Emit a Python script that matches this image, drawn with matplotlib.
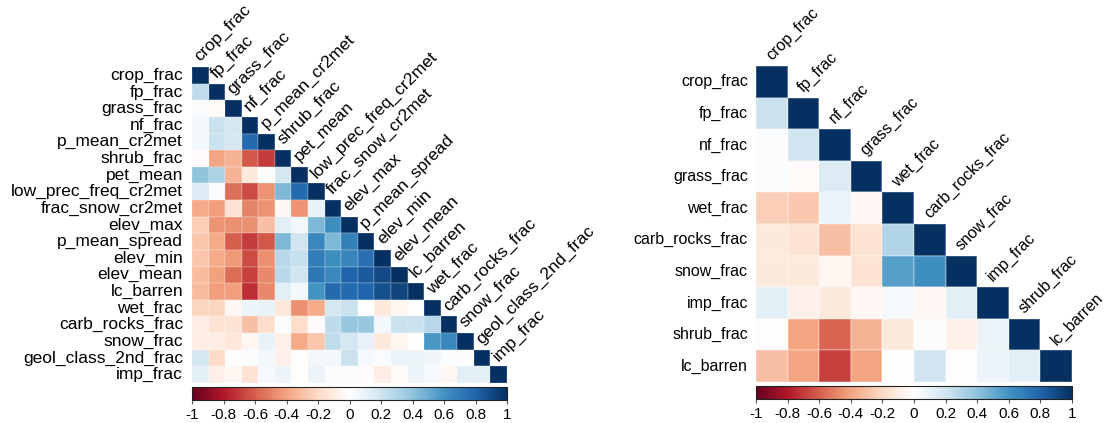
import numpy as np
import matplotlib
matplotlib.use('Agg')
import matplotlib.pyplot as plt
from matplotlib.colors import LinearSegmentedColormap, Normalize
from matplotlib.colorbar import ColorbarBase
from matplotlib.transforms import offset_copy

plt.rcParams['font.family'] = ['Liberation Sans', 'DejaVu Sans']

left_vars = [
    'crop_frac', 'fp_frac', 'grass_frac', 'nf_frac', 'p_mean_cr2met',
    'shrub_frac', 'pet_mean', 'low_prec_freq_cr2met', 'frac_snow_cr2met',
    'elev_max', 'p_mean_spread', 'elev_min', 'elev_mean', 'lc_barren',
    'wet_frac', 'carb_rocks_frac', 'snow_frac', 'geol_class_2nd_frac', 'imp_frac',
]

# lower triangle, one list per row (diagonal is 1)
left_lower = [
    [],
    [0.25],
    [0.03, -0.03],
    [0.05, 0.22, 0.18],
    [0.05, 0.22, 0.18, 0.78],
    [-0.02, -0.40, -0.35, -0.62, -0.70],
    [0.40, 0.32, -0.35, -0.12, 0.02, 0.18],
    [0.15, 0.03, -0.55, -0.65, -0.45, 0.45, 0.78],
    [-0.38, -0.42, -0.15, -0.50, -0.45, -0.04, -0.45, 0.10],
    [-0.25, -0.45, -0.46, -0.46, -0.30, 0.12, 0.06, 0.45, 0.62],
    [-0.28, -0.38, -0.60, -0.70, -0.62, 0.45, 0.20, 0.65, 0.45, 0.68],
    [-0.28, -0.38, -0.43, -0.65, -0.46, 0.28, 0.24, 0.70, 0.62, 0.66, 0.75],
    [-0.32, -0.41, -0.56, -0.68, -0.48, 0.28, 0.20, 0.72, 0.65, 0.80, 0.84, 0.90],
    [-0.32, -0.42, -0.42, -0.74, -0.48, 0.12, 0.05, 0.60, 0.78, 0.78, 0.80, 0.88, 0.92],
    [-0.22, -0.22, -0.04, 0.08, 0.10, -0.14, -0.46, -0.38, 0.18, 0.22, 0.00, -0.12, -0.05, 0.00],
    [-0.10, -0.15, -0.15, -0.30, -0.18, 0.03, -0.18, -0.02, 0.26, 0.38, 0.38, 0.06, 0.22, 0.22, 0.28],
    [-0.10, -0.10, -0.13, -0.05, 0.10, -0.08, -0.38, -0.28, 0.25, 0.18, 0.10, -0.12, -0.05, 0.00, 0.58, 0.65],
    [0.18, -0.20, -0.01, 0.02, 0.05, -0.08, -0.01, 0.06, 0.06, 0.22, 0.04, 0.03, 0.08, 0.08, 0.07, 0.02, 0.02],
    [0.12, -0.08, -0.05, -0.15, 0.04, 0.08, -0.01, 0.08, 0.02, 0.02, -0.02, -0.10, -0.03, 0.08, 0.04, -0.05, 0.12, 0.12],
]

right_vars = [
    'crop_frac', 'fp_frac', 'nf_frac', 'grass_frac', 'wet_frac',
    'carb_rocks_frac', 'snow_frac', 'imp_frac', 'shrub_frac', 'lc_barren',
]

right_lower = [
    [],
    [0.22],
    [0.02, 0.20],
    [0.02, -0.03, 0.15],
    [-0.25, -0.27, 0.08, -0.04],
    [-0.12, -0.15, -0.30, -0.15, 0.30],
    [-0.12, -0.12, -0.05, -0.15, 0.55, 0.62],
    [0.12, -0.08, -0.12, -0.04, 0.04, -0.04, 0.12],
    [-0.01, -0.40, -0.58, -0.35, -0.12, 0.02, -0.08, 0.08],
    [-0.30, -0.40, -0.68, -0.40, 0.00, 0.20, 0.01, 0.08, 0.12],
]

cbar_ticks = [-1, -0.8, -0.6, -0.4, -0.2, 0, 0.2, 0.4, 0.6, 0.8, 1]
cbar_labels = ['-1', '-0.8', '-0.6', '-0.4', '-0.2', '0', '0.2', '0.4', '0.6', '0.8', '1']

# corrplot-style diverging palette
cmap = LinearSegmentedColormap.from_list('corr', [
    '#67001F', '#B2182B', '#D6604D', '#F4A582', '#FDDBC7', '#FFFFFF',
    '#D1E5F0', '#92C5DE', '#4393C3', '#2166AC', '#053061'])
norm = Normalize(-1, 1)


def full_matrix(lower):
    n = len(lower)
    m = np.full((n, n), np.nan)
    for i, row in enumerate(lower):
        for j, v in enumerate(row):
            m[i, j] = v
        m[i, i] = 1.0
    return np.ma.masked_invalid(m)


def draw_corr(fig, ax, names, lower, fs, gap, edge_alpha):
    n = len(names)
    m = full_matrix(lower)
    ax.pcolormesh(np.arange(n + 1), np.arange(n + 1), m, cmap=cmap, norm=norm,
                  edgecolors=(1, 1, 1, edge_alpha), linewidth=0.3)
    ax.set_xlim(0, n)
    ax.set_ylim(n, 0)
    ax.axis('off')
    row_tr = offset_copy(ax.transData, fig=fig, x=-gap, y=0, units='dots')
    col_tr = offset_copy(ax.transData, fig=fig, x=0, y=5, units='dots')
    for i, name in enumerate(names):
        ax.text(0, i + 0.5, name, ha='right', va='center', fontsize=fs,
                transform=row_tr)
        ax.text(i + 0.5, i, name, ha='left', va='baseline', fontsize=fs,
                rotation=45, rotation_mode='anchor', transform=col_tr)


def draw_cbar(cax):
    cb = ColorbarBase(cax, cmap=cmap, norm=norm, orientation='horizontal', ticks=cbar_ticks)
    cb.set_ticklabels(cbar_labels)
    cb.outline.set_edgecolor('#222222')
    cb.outline.set_linewidth(0.8)
    cax.tick_params(axis='x', length=3, width=0.8, color='#555555', labelsize=11, pad=3)


fig = plt.figure(figsize=(11.07, 4.23), dpi=100)

ax1 = fig.add_axes([192 / 1107, 1 - 383 / 423, 315 / 1107, 316 / 423])
draw_corr(fig, ax1, left_vars, left_lower, 12.5, 9, 0.12)
cax1 = fig.add_axes([192 / 1107, 1 - 400 / 423, 315 / 1107, 13 / 423])
draw_cbar(cax1)

ax2 = fig.add_axes([756 / 1107, 1 - 382 / 423, 316 / 1107, 316 / 423])
draw_corr(fig, ax2, right_vars, right_lower, 11.5, 8, 0.2)
cax2 = fig.add_axes([756 / 1107, 1 - 399 / 423, 316 / 1107, 13 / 423])
draw_cbar(cax2)

fig.savefig('out.png', dpi=100)
